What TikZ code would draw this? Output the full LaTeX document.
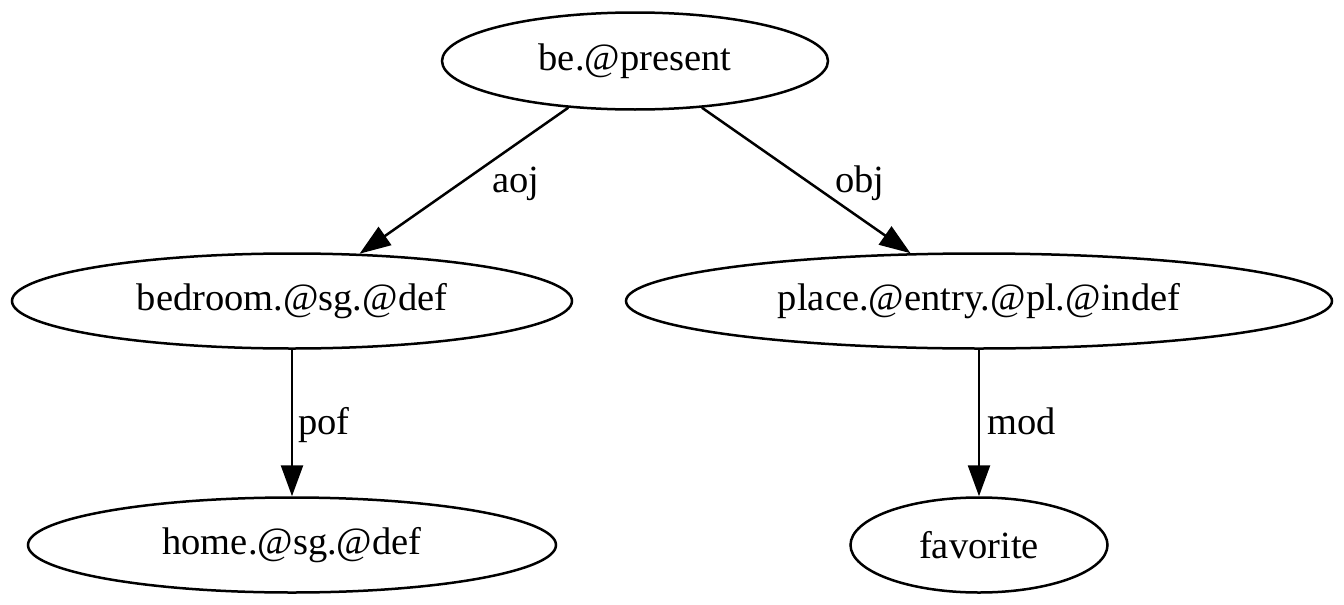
\documentclass[tikz,border=0pt]{standalone}
\usepackage{fontspec}
\setmainfont{Liberation Serif}
\usetikzlibrary{shapes.geometric,arrows.meta}
\begin{document}
\begin{tikzpicture}[x=1pt,y=-1pt,
  gnode/.style={draw,ellipse,line width=2.5pt,inner sep=0pt,font=\fontsize{38.5}{46}\selectfont},
  gedge/.style={line width=2.5pt,-{Triangle[length=31pt,width=22pt]}},
  glabel/.style={font=\fontsize{38.5}{46}\selectfont,inner sep=0pt,anchor=base}]
\useasboundingbox (0,0) rectangle (1344,605);
\node[gnode,minimum width=386pt,minimum height=97pt] (be) at (635,61) {be.@present};
\node[gnode,minimum width=560pt,minimum height=95pt] (bed) at (292,301) {bedroom.@sg.@def};
\node[gnode,minimum width=706pt,minimum height=95pt] (place) at (979,301) {place.@entry.@pl.@indef};
\node[gnode,minimum width=528pt,minimum height=95pt] (home) at (292,545) {home.@sg.@def};
\node[gnode,minimum width=257pt,minimum height=95pt] (fav) at (979,545) {favorite};
\draw[gedge] (be) -- (bed);
\draw[gedge] (be) -- (place);
\draw[gedge] (bed) -- (home);
\draw[gedge] (place) -- (fav);
\node[glabel] (laoj) at (516,192) {aoj};
\node[glabel] (lobj) at (860,192) {obj};
\node[glabel] (lpof) at (324,434) {pof};
\node[glabel] (lmod) at (1022,434) {mod};
\end{tikzpicture}
\end{document}
